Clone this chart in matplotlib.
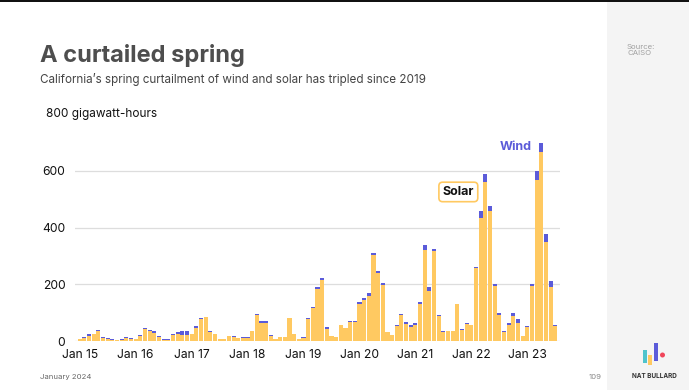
import matplotlib
matplotlib.use("Agg")
import matplotlib.pyplot as plt
import matplotlib.patches as mpatches
import numpy as np

plt.rcParams['font.family'] = ['Inter', 'DejaVu Sans']

# Monthly curtailment, Jan 2015 - Jul 2023 (GWh), total and wind part
total = [7, 15, 23, 26, 39, 14, 9, 6, 2, 7, 15, 9,
         7, 21, 46, 39, 35, 17, 6, 6, 25, 31, 34, 34,
         25, 52, 82, 86, 34, 25, 7, 7, 19, 16, 12, 14,
         13, 36, 95, 70, 72, 20, 8, 15, 15, 82, 25, 8,
         13, 81, 121, 192, 221, 48, 19, 14, 58, 47, 70, 70,
         137, 152, 171, 312, 246, 205, 32, 22, 56, 97, 66, 55,
         62, 137, 338, 190, 326, 92, 34, 35, 35, 132, 42, 63,
         57, 260, 457, 591, 477, 200, 98, 34, 62, 98, 77, 18,
         53, 201, 601, 697, 377, 213, 56]
wind = [1, 3, 4, 3, 5, 3, 2, 1, 0, 2, 3, 2,
        1, 3, 4, 5, 6, 2, 1, 1, 5, 8, 13, 13,
        2, 5, 6, 2, 1, 1, 0, 0, 1, 1, 2, 4,
        1, 2, 2, 8, 8, 1, 1, 1, 1, 2, 1, 1,
        2, 3, 3, 9, 7, 4, 1, 1, 1, 1, 2, 2,
        6, 6, 12, 7, 6, 7, 1, 1, 4, 7, 6, 5,
        6, 5, 16, 14, 9, 4, 1, 1, 1, 2, 2, 4,
        2, 3, 23, 29, 18, 6, 5, 1, 5, 9, 12, 2,
        2, 7, 33, 30, 28, 21, 2]
solar = [t - w for t, w in zip(total, wind)]
tick_labels = ["Jan 15", "Jan 16", "Jan 17", "Jan 18", "Jan 19",
               "Jan 20", "Jan 21", "Jan 22", "Jan 23"]
y_ticks = [0, 200, 400, 600]

SOLAR_C = "#FFC961"
WIND_C = "#5B5BD9"

W, H = 689, 390
fig = plt.figure(figsize=(W / 100, H / 100), dpi=100)
fig.patch.set_facecolor("white")

def fx(px):
    return px / W

def fy(py):
    return 1 - py / H

# right grey panel and top line
fig.patches.append(mpatches.Rectangle((fx(607), 0), fx(W - 607), fy(2), transform=fig.transFigure,
                                      facecolor="#F4F4F4", edgecolor="none", zorder=0))
fig.patches.append(mpatches.Rectangle((0, fy(1.6)), 1, 1.6 / H, transform=fig.transFigure,
                                      facecolor="#111111", edgecolor="none", zorder=1))

ax = fig.add_axes([fx(75), fy(341), fx(560) - fx(75), (341 - 114.3) / H])
ax.set_facecolor("none")
x = np.arange(len(total))
ax.bar(x, solar, width=0.88, color=SOLAR_C, linewidth=0, zorder=3)
ax.bar(x, wind, bottom=solar, width=0.88, color=WIND_C, linewidth=0, zorder=3)

ax.set_xlim(-1.0, 103.0)
ax.set_ylim(0, 800)
ax.set_yticks(y_ticks)
ax.set_yticklabels([str(v) for v in y_ticks])
ax.set_xticks(np.arange(0, len(total), 12))
ax.set_xticklabels(tick_labels)
for v in y_ticks:
    ax.axhline(v, color="#DDDDDD", linewidth=0.9, zorder=1)
for s in ax.spines.values():
    s.set_visible(False)
ax.tick_params(axis="both", length=0, labelsize=8.7, colors="#111111")
ax.tick_params(axis="y", pad=7)
ax.tick_params(axis="x", pad=5.5)

ax.text(96.9, 685, "Wind", color=WIND_C, fontsize=9, fontweight="bold",
        ha="right", va="center", zorder=5)
ax.text(81.2, 526, "Solar", color="#111111", fontsize=9, fontweight="bold",
        ha="center", va="center", zorder=5,
        bbox=dict(boxstyle="round,pad=0.3,rounding_size=0.3", facecolor="white",
                  edgecolor=SOLAR_C, linewidth=1.2))

fig.text(fx(46), fy(114.5), "800 gigawatt-hours", fontsize=8.5, color="#111111",
         ha="left", va="center")
fig.text(fx(40), fy(62), "A curtailed spring", fontsize=17.0, fontweight="bold",
         color="#4E4E4E", ha="left", va="baseline")
fig.text(fx(40.5), fy(82.5),
         "California\u2019s spring curtailment of wind and solar has tripled since 2019",
         fontsize=8.4, color="#444444", ha="left", va="baseline")
fig.text(fx(40), fy(377), "January 2024", fontsize=5.6, color="#666666",
         ha="left", va="center")
fig.text(fx(602), fy(377), "109", fontsize=5.6, color="#888888",
         ha="right", va="center")
fig.text(fx(627), fy(44), "Source:\nCAISO", fontsize=5.6, color="#A0A0A0",
         ha="left", va="top", linespacing=1.0)
fig.text(fx(654), fy(376.5), "NAT BULLARD", fontsize=4.6, fontweight="bold",
         color="#333333", ha="center", va="center")

# logo
for (x0, x1, y0, y1, c) in [(642.7, 646.7, 350, 363, "#4FC4CC"),
                            (648, 652, 355, 365, SOLAR_C),
                            (654, 658, 342.7, 360.7, WIND_C)]:
    fig.patches.append(mpatches.Rectangle((fx(x0), fy(y1)), fx(x1 - x0), (y1 - y0) / H,
                                          transform=fig.transFigure, facecolor=c,
                                          edgecolor="none", zorder=2))
fig.patches.append(mpatches.Ellipse((fx(662.5), fy(355)), fx(5), 5 / H,
                                    transform=fig.transFigure, facecolor="#F0455A",
                                    edgecolor="none", zorder=2))

fig.savefig("out.png", dpi=100)
